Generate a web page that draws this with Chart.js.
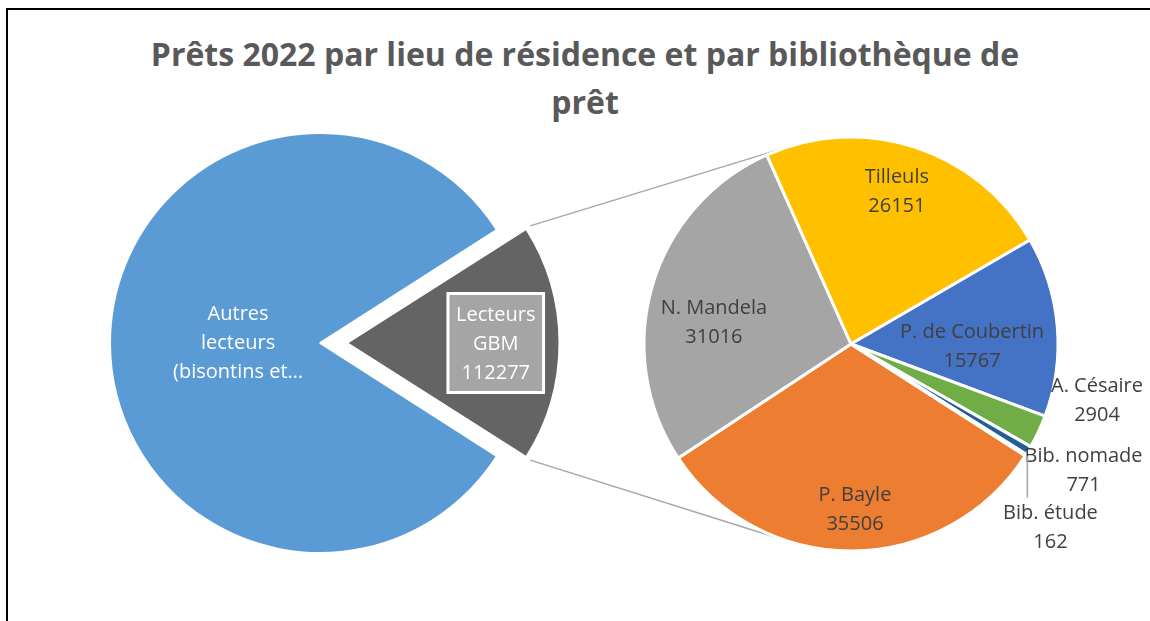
<!DOCTYPE html>
<html>
<head>
<meta charset="utf-8">
<script src="https://cdn.jsdelivr.net/npm/chart.js@4.4.1/dist/chart.umd.min.js"></script>
<style>
  html, body { margin: 0; padding: 0; background: #ffffff; }
  #stage { position: relative; width: 1150px; height: 621px; overflow: hidden; background: #fff; }
  #frame { position: absolute; left: 6px; top: 8px; width: 1200px; height: 700px;
           border-top: 2px solid #000; border-left: 2px solid #000; }
  #title { position: absolute; left: 10px; top: 30px; width: 1150px; text-align: center;
           font-family: "Open Sans", Lato, sans-serif; font-weight: bold; font-size: 32px;
           line-height: 48px; color: #595959; }
  canvas { position: absolute; left: 0; top: 0; }
</style>
</head>
<body>
<div id="stage">
  <div id="frame"></div>
  <div id="title">Prêts 2022 par lieu de résidence et par bibliothèque de<br>prêt</div>
  <canvas id="leftPie" width="1150" height="621"></canvas>
  <canvas id="rightPie" width="1150" height="621"></canvas>
</div>
<script>
// ---------- DATA ----------
const leftCategories = ['Autres\nlecteurs\n(bisontins et…', 'Lecteurs\nGBM'];
const leftValues = [508000, 112277];
const leftColors = ['#5B9BD5', '#646464'];

const rightCategories = ['P. Bayle', 'N. Mandela', 'Tilleuls', 'P. de Coubertin', 'A. Césaire', 'Bib. nomade', 'Bib. étude'];
const rightValues = [35506, 31016, 26151, 15767, 2904, 771, 162];
const rightColors = ['#ED7D31', '#A5A5A5', '#FFC000', '#4472C4', '#70AD47', '#255E91', '#9E480E'];

// ---------- helpers ----------
const DEG = Math.PI / 180;
function arcGeom(arc) {
  const o = (arc.options.offset || 0) / 4;
  const mid = (arc.startAngle + arc.endAngle) / 2;
  const circ = arc.endAngle - arc.startAngle;
  const fix = 1 - Math.sin(Math.min(Math.PI, circ));
  return {
    cx: arc.x + Math.cos(mid) * o,
    cy: arc.y + Math.sin(mid) * o,
    r: arc.outerRadius + o * fix,
    start: arc.startAngle, end: arc.endAngle, mid: mid,
    baseX: arc.x, baseY: arc.y, baseR: arc.outerRadius
  };
}
function drawLines(ctx, lines, x, y, lh) {
  const n = lines.length;
  lines.forEach((t, i) => ctx.fillText(t, x, y + (i - (n - 1) / 2) * lh));
}

const LABEL_FONT = '20px "Open Sans", sans-serif';

// ---------- left pie ----------
const leftTotal = leftValues.reduce((a, b) => a + b, 0);
const leftShareOther = leftValues[1] / leftTotal;
const leftRotation = 90 + leftShareOther * 180; // combined slice centred on the right

const leftLabelPlugin = {
  id: 'leftLabels',
  afterDatasetsDraw(chart, args, opts) {
    const ctx = chart.ctx;
    const arcs = chart.getDatasetMeta(0).data;
    ctx.save();
    ctx.font = LABEL_FONT;
    ctx.textAlign = 'center';
    ctx.textBaseline = 'middle';
    // big slice: category only
    const g0 = arcGeom(arcs[0]);
    const p0 = opts.place[0];
    const a0 = g0.mid + p0.da * DEG;
    ctx.fillStyle = '#ffffff';
    drawLines(ctx, leftCategories[0].split('\n'),
      g0.cx + Math.cos(a0) * g0.r * p0.r, g0.cy + Math.sin(a0) * g0.r * p0.r, 29);
    // combined slice: category + value, boxed
    const g1 = arcGeom(arcs[1]);
    const p1 = opts.place[1];
    const a1 = g1.mid + p1.da * DEG;
    const x1 = g1.cx + Math.cos(a1) * g1.r * p1.r;
    const y1 = g1.cy + Math.sin(a1) * g1.r * p1.r;
    const lines = leftCategories[1].split('\n').concat([String(leftValues[1])]);
    const w = Math.max(...lines.map(t => ctx.measureText(t).width)) + 16;
    const h = lines.length * 29 + 12;
    ctx.fillStyle = '#A5A5A5';
    ctx.fillRect(x1 - w / 2, y1 - h / 2, w, h);
    ctx.strokeStyle = '#ffffff';
    ctx.lineWidth = 3;
    ctx.strokeRect(x1 - w / 2, y1 - h / 2, w, h);
    ctx.fillStyle = '#ffffff';
    drawLines(ctx, lines, x1, y1 + 1, 29);
    ctx.restore();
  }
};

const leftChart = new Chart(document.getElementById('leftPie'), {
  type: 'pie',
  data: {
    labels: leftCategories,
    datasets: [{
      data: leftValues,
      backgroundColor: leftColors,
      borderColor: '#ffffff',
      borderWidth: 2,
      offset: [0, 108]
    }]
  },
  options: {
    responsive: false,
    animation: false,
    rotation: leftRotation,
    radius: 210,
    layout: { padding: { left: 100, right: 610, top: 123, bottom: 58 } },
    plugins: {
      legend: { display: false },
      tooltip: { enabled: false },
      leftLabels: { place: [{ da: 0, r: 0.39 }, { da: 0, r: 0.70 }] }
    }
  },
  plugins: [leftLabelPlugin]
});

// ---------- right pie ----------
const rightLabelPlugin = {
  id: 'rightLabels',
  beforeDatasetsDraw(chart) {
    // connector lines: from the corners of the combined slice, tangent to this pie
    const ctx = chart.ctx;
    const lg = arcGeom(leftChart.getDatasetMeta(0).data[1]);
    const rg = arcGeom(chart.getDatasetMeta(0).data[0]);
    const C = { x: rg.baseX, y: rg.baseY }, R = rg.baseR;
    ctx.save();
    ctx.strokeStyle = '#A6A6A6';
    ctx.lineWidth = 1.5;
    [[lg.start, 1], [lg.end, -1]].forEach(([ang, sgn]) => {
      const P = { x: lg.cx + Math.cos(ang) * (lg.r + 5), y: lg.cy + Math.sin(ang) * (lg.r + 5) };
      const dx = P.x - C.x, dy = P.y - C.y;
      const d = Math.hypot(dx, dy);
      const phi = Math.atan2(dy, dx);
      const beta = Math.acos(R / d);
      const t = phi + sgn * beta;
      ctx.beginPath();
      ctx.moveTo(P.x, P.y);
      ctx.lineTo(C.x + Math.cos(t) * R, C.y + Math.sin(t) * R);
      ctx.stroke();
    });
    ctx.restore();
  },
  afterDatasetsDraw(chart, args, opts) {
    const ctx = chart.ctx;
    const arcs = chart.getDatasetMeta(0).data;
    ctx.save();
    ctx.font = LABEL_FONT;
    ctx.textAlign = 'center';
    ctx.textBaseline = 'middle';
    arcs.forEach((arc, i) => {
      const g = arcGeom(arc);
      const p = opts.place[i];
      const a = g.mid + p.da * DEG;
      const x = g.cx + Math.cos(a) * g.r * p.r;
      const y = g.cy + Math.sin(a) * g.r * p.r;
      if (p.leader) {
        const ex = g.cx + Math.cos(g.mid) * (g.r + 2);
        const ey = g.cy + Math.sin(g.mid) * (g.r + 2);
        ctx.strokeStyle = '#A6A6A6';
        ctx.lineWidth = 1.5;
        ctx.beginPath();
        ctx.moveTo(ex, ey);
        ctx.lineTo(ex, y - 30);
        ctx.stroke();
      }
      ctx.fillStyle = '#404040';
      drawLines(ctx, [rightCategories[i], String(rightValues[i])], x, y, 29);
    });
    ctx.restore();
  }
};

const rightChart = new Chart(document.getElementById('rightPie'), {
  type: 'pie',
  data: {
    labels: rightCategories,
    datasets: [{
      data: rightValues,
      backgroundColor: rightColors,
      borderColor: '#ffffff',
      borderWidth: 3
    }]
  },
  options: {
    responsive: false,
    animation: false,
    rotation: 122.7,
    radius: 207,
    layout: { padding: { left: 641, right: 89, top: 124, bottom: 57 } },
    plugins: {
      legend: { display: false },
      tooltip: { enabled: false },
      rightLabels: {
        place: [
          { da: -1, r: 0.80 },
          { da: -7.5, r: 0.67 },
          { da: -1.2, r: 0.77 },
          { da: 6.1, r: 0.585 },
          { da: -12, r: 1.22 },
          { da: -2.3, r: 1.28 },
          { da: 10.2, r: 1.31, leader: true }
        ]
      }
    }
  },
  plugins: [rightLabelPlugin]
});
</script>
</body>
</html>
